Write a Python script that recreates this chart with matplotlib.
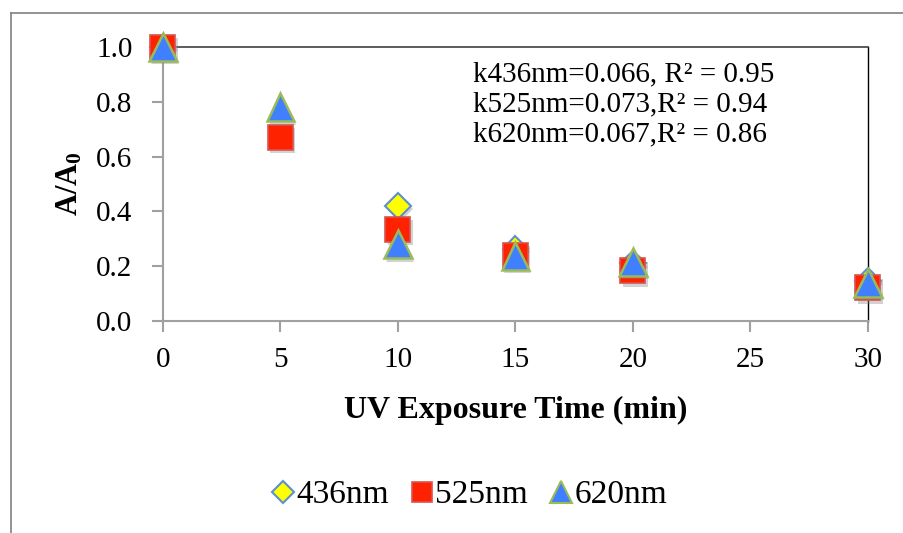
import matplotlib.pyplot as plt
import matplotlib.patheffects as pe
from matplotlib.lines import Line2D

# === Data ===
times = [0, 5, 10, 15, 20, 30]
a436 = [1.0, float('nan'), 0.42, 0.263, 0.21, 0.146]  # 5 min point not visible
a525 = [1.0, 0.67, 0.335, 0.24, 0.183, 0.121]
a620 = [1.0, 0.78, 0.28, 0.237, 0.216, 0.139]
series_labels = ["436nm", "525nm", "620nm"]
fit_text = ["k436nm=0.066, R² = 0.95",
            "k525nm=0.073,R² = 0.94",
            "k620nm=0.067,R² = 0.86"]
xticks = [0, 5, 10, 15, 20, 25, 30]
yticks = [0.0, 0.2, 0.4, 0.6, 0.8, 1.0]

plt.rcParams['font.family'] = ['Liberation Serif', 'DejaVu Serif']
plt.rcParams['mathtext.fontset'] = 'custom'
plt.rcParams['mathtext.rm'] = 'Liberation Serif'
plt.rcParams['mathtext.bf'] = 'Liberation Serif:bold'

fig = plt.figure(figsize=(9.04, 5.33), dpi=100)
ax = fig.add_axes([163 / 904, 1 - 321 / 533, (868 - 163) / 904, (321 - 47) / 533])

shadow = [pe.SimplePatchShadow(offset=(1.5, -2.5), alpha=0.35, shadow_rgbFace='gray'), pe.Normal()]

styles = [
    dict(marker='D', ms=13, mfc='#FFFF00', mec='#5B8FD0', mew=1.5),
    dict(marker='s', ms=18, mfc='#FF2200', mec='#D9534F', mew=1.2),
    dict(marker='^', ms=20, mfc='#4080FF', mec='#9BBB59', mew=1.8),
]
for ys, st, lab in zip([a436, a525, a620], styles, series_labels):
    ax.plot(times, ys, ls='none', clip_on=False, zorder=3, label=lab,
            path_effects=shadow, **st)

ax.set_xlim(0, 30)
ax.set_ylim(0, 1.0)
ax.set_xticks(xticks)
ax.set_yticks(yticks)
ax.set_yticklabels([f"{v:.1f}" for v in yticks])
ax.tick_params(axis='both', labelsize=21, direction='out', length=8, color='#A0A0A0', width=1.5)
ax.tick_params(axis='y', pad=14)
ax.tick_params(axis='x', pad=11)

for s in ['left', 'bottom']:
    ax.spines[s].set_color('#A0A0A0')
    ax.spines[s].set_linewidth(1.5)
ax.spines['top'].set_color('#404040')
ax.spines['right'].set_color('#000000')
ax.spines['top'].set_linewidth(1.2)
ax.spines['right'].set_linewidth(1.0)

ax.set_xlabel("UV Exposure Time (min)", fontsize=23, fontweight='bold', labelpad=16)
ax.set_ylabel(r"$\mathbf{A/A_0}$", fontsize=22, labelpad=8)

fig.text(473 / 904, 1 - 104 / 533, "\n".join(fit_text), fontsize=21,
         ha='left', va='center', linespacing=1.2)

# legend at the bottom
handles = [Line2D([], [], ls='none', marker='D', ms=11, mfc='#FFFF00', mec='#5B8FD0', mew=1.5),
           Line2D([], [], ls='none', marker='s', ms=15, mfc='#FF2200', mec='#D9534F', mew=1.2),
           Line2D([], [], ls='none', marker='^', ms=16, mfc='#4080FF', mec='#9BBB59', mew=1.5)]
fig.legend(handles, series_labels, loc='center', bbox_to_anchor=(470 / 904, 1 - 495 / 533),
           ncol=3, frameon=False, fontsize=24, handlelength=0.6, handletextpad=0.1,
           columnspacing=0.7)

# outer chart frame (partly cropped)
fig.add_artist(Line2D([11 / 904, 1], [1 - 13 / 533, 1 - 13 / 533], color='#808080', lw=1.2))
fig.add_artist(Line2D([11 / 904, 11 / 904], [0, 1 - 13 / 533], color='#808080', lw=1.2))

fig.savefig("out.png", dpi=100)
